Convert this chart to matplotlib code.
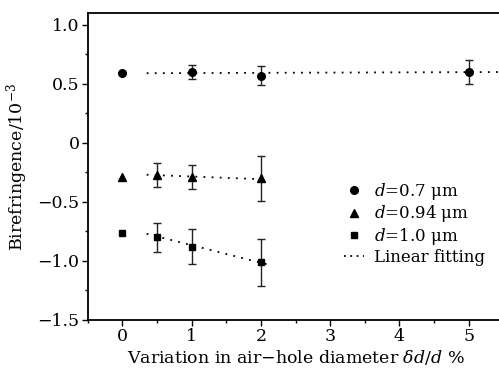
import matplotlib
matplotlib.use("Agg")
import matplotlib.pyplot as plt
from matplotlib.ticker import MultipleLocator
from matplotlib.lines import Line2D

plt.rcParams['font.family'] = 'DejaVu Serif'
plt.rcParams['mathtext.fontset'] = 'dejavuserif'

# d = 0.7 um
x07 = [0, 1, 2, 5]
y07 = [0.59, 0.60, 0.57, 0.60]
e07 = [0, 0.06, 0.08, 0.10]
fit07_x = [0.35, 5.5]
fit07_y = [0.59, 0.60]

# d = 0.94 um
x094 = [0, 0.5, 1, 2]
y094 = [-0.29, -0.27, -0.29, -0.30]
e094 = [0, 0.10, 0.10, 0.19]
fit094_x = [0.35, 2.1]
fit094_y = [-0.27, -0.31]

# d = 1.0 um
x10 = [0, 0.5, 1, 2]
y10 = [-0.76, -0.80, -0.88, -1.01]
e10 = [0, 0.12, 0.15, 0.20]
fit10_x = [0.35, 2.1]
fit10_y = [-0.77, -1.03]

fig = plt.figure(figsize=(4.99, 3.71), dpi=100)
# right edge of the axes sits just outside the canvas, like the cropped original
ax = fig.add_axes([0.176, 0.1375, 0.8325, 0.8275])

dots = (0, (1, 3.5))
for fx, fy in [(fit07_x, fit07_y), (fit094_x, fit094_y), (fit10_x, fit10_y)]:
    ax.plot(fx, fy, color='black', lw=1.3, linestyle=dots)

for xs, ys, es, m, ms in [(x07, y07, e07, 'o', 5.5), (x094, y094, e094, '^', 6), (x10, y10, e10, 's', 5)]:
    ax.plot(xs[:1], ys[:1], m, color='black', ms=ms)
    ax.errorbar(xs[1:], ys[1:], yerr=es[1:], fmt=m, color='black', ms=ms,
                ecolor='#222222', elinewidth=1.0, capsize=3, capthick=1.0)

ax.set_xlim(-0.5, 5.5)
ax.set_ylim(-1.5, 1.1)
ax.xaxis.set_minor_locator(MultipleLocator(0.5))
ax.yaxis.set_minor_locator(MultipleLocator(0.25))
ax.set_xticks([0, 1, 2, 3, 4, 5])
ax.set_xticklabels(['0', '1', '2', '3', '4', '5'])
ax.set_yticks([-1.5, -1.0, -0.5, 0, 0.5, 1.0])
ax.set_yticklabels(['\u22121.5', '\u22121.0', '\u22120.5', '0', '0.5', '1.0'])
ax.tick_params(which='major', direction='out', length=4, width=1, labelsize=12.5, pad=2)
ax.tick_params(which='minor', direction='out', length=2.5, width=1)
ax.spines['right'].set_visible(False)
for s in ax.spines.values():
    s.set_linewidth(1.3)

ax.set_xlabel(r'Variation in air$-$hole diameter $\delta d/d$ %', fontsize=12.5, labelpad=2)
ax.set_ylabel(r'Birefringence/10$^{-3}$', fontsize=12.5, labelpad=5)

handles = [
    Line2D([], [], marker='o', color='black', ls='none', ms=5.5),
    Line2D([], [], marker='^', color='black', ls='none', ms=6),
    Line2D([], [], marker='s', color='black', ls='none', ms=5),
    Line2D([], [], color='black', lw=1.3, ls=(0, (1, 2.5))),
]
labels = [r'$d$=0.7 $\mathrm{\mu m}$', r'$d$=0.94 $\mathrm{\mu m}$',
          r'$d$=1.0 $\mathrm{\mu m}$', 'Linear fitting']
ax.legend(handles, labels, loc='upper left', bbox_to_anchor=(0.6, 0.475),
          frameon=False, fontsize=12, handlelength=1.2, handletextpad=0.6,
          labelspacing=0.1, borderaxespad=0)

fig.savefig('out.png', dpi=100)
